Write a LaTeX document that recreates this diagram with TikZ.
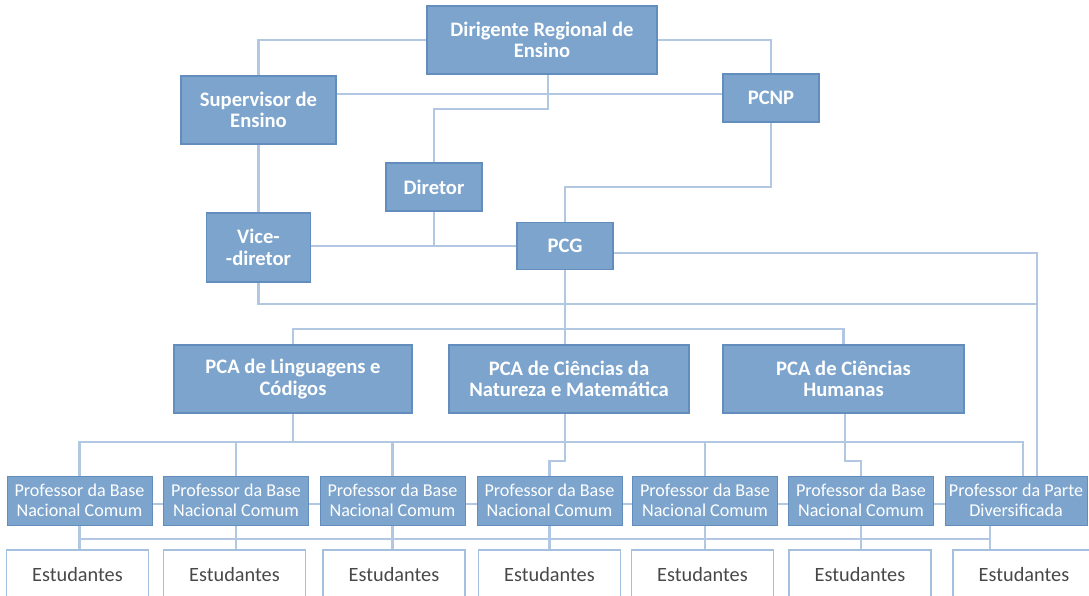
\documentclass[tikz,border=0pt]{standalone}
\usepackage{fontspec}
\setmainfont{Carlito}
\usetikzlibrary{backgrounds}
\definecolor{boxfill}{RGB}{124,164,204}
\definecolor{boxedge}{RGB}{98,141,189}
\definecolor{linecol}{RGB}{178,200,226}
\definecolor{estedge}{RGB}{165,192,222}
\definecolor{esttext}{RGB}{72,72,72}
\begin{document}
\begin{tikzpicture}[x=1pt,y=-1pt,
  bluebox/.style={draw=boxedge, line width=1.5pt, fill=boxfill, text=white,
    font=\fontsize{20.6}{21.5}\selectfont\bfseries, align=center, inner sep=0pt},
  profbox/.style={draw=boxedge, line width=1pt, fill=boxfill, text=white,
    font=\fontsize{18.1}{20.5}\selectfont, align=center, inner sep=0pt,
    minimum width=145pt, minimum height=49pt},
  estbox/.style={draw=estedge, line width=1.5pt, fill=white, text=esttext,
    font=\fontsize{20.3}{21}\selectfont, inner sep=0pt,
    minimum width=142pt, minimum height=50pt},
  connector/.style={draw=linecol, line width=2.8pt}
]
\useasboundingbox (0,0) rectangle (1089,595);

% top part
\node[bluebox, minimum width=230pt, minimum height=68pt] (dir) at (542,40) {Dirigente Regional de\\Ensino};
\node[bluebox, minimum width=155pt, minimum height=68pt] (sup) at (258.5,110) {Supervisor de\\Ensino};
\node[bluebox, minimum width=96pt, minimum height=48pt] (pcnp) at (771,98) {PCNP};
\node[bluebox, minimum width=96pt, minimum height=48pt] (diretor) at (434,187) {Diretor};
\node[bluebox, minimum width=104pt, minimum height=69pt] (vice) at (258.5,247.5) {Vice-\\-diretor};
\node[bluebox, minimum width=96pt, minimum height=47pt] (pcg) at (565,246) {PCG};

% PCA row
\node[bluebox, minimum width=238pt, minimum height=68pt] (pcaL) at (293,379) {PCA de Linguagens e\\Códigos};
\node[bluebox, minimum width=240pt, minimum height=68pt] (pcaC) at (569,379) {PCA de Ciências da\\Natureza e Matemática};
\node[bluebox, minimum width=241pt, minimum height=68pt] (pcaH) at (843.5,379) {PCA de Ciências\\Humanas};

% Professor row
\node[profbox] (p1) at (79.5,500.5) {Professor da Base\\Nacional Comum};
\node[profbox] (p2) at (236,500.5) {Professor da Base\\Nacional Comum};
\node[profbox] (p3) at (392.5,500.5) {Professor da Base\\Nacional Comum};
\node[profbox] (p4) at (549.5,500.5) {Professor da Base\\Nacional Comum};
\node[profbox] (p5) at (705,500.5) {Professor da Base\\Nacional Comum};
\node[profbox] (p6) at (861,500.5) {Professor da Base\\Nacional Comum};
\node[profbox, minimum width=142pt] (p7) at (1016,500.5) {Professor da Parte\\Diversificada};

% Estudantes row
\node[estbox] (e1) at (77.5,575) {Estudantes};
\node[estbox] (e2) at (234.5,575) {Estudantes};
\node[estbox] (e3) at (394,575) {Estudantes};
\node[estbox] (e4) at (549.5,575) {Estudantes};
\node[estbox] (e5) at (702.5,575) {Estudantes};
\node[estbox] (e6) at (860,575) {Estudantes};
\node[estbox] (e7) at (1024,575) {Estudantes};

\coordinate (vj) at (1037,304);
\coordinate (p7a) at ([xshift=7pt]p7.north);
\coordinate (p7r) at ([xshift=21pt]p7.north);
\coordinate (p7b) at ([xshift=-26pt]p7.south);
\coordinate (dirs) at ([xshift=6pt]dir.south);
\coordinate (pcaCs) at ([xshift=-4pt]pcaC.south);
\coordinate (pcaHs) at ([xshift=1.5pt]pcaH.south);

\begin{scope}[on background layer]
\draw[connector] (dir.west) -| (sup.north);
\draw[connector] (dir.east) -| (pcnp.north);
\draw[connector] (sup.east |- 0,94) -- (pcnp.west |- 0,94);
\draw[connector] (dirs) |- (diretor.north |- 0,109) -- (diretor.north);
\draw[connector] (sup.south) -- (vice.north);
\draw[connector] (pcnp.south) -- (pcnp.south |- 0,187) -| (pcg.north);
\draw[connector] (vice.east |- pcg.west) -- (pcg.west);
\draw[connector] (diretor.south) -- (diretor.south |- pcg.west);
\draw[connector] (pcg.east |- 0,253) -| (p7r);
\draw[connector] (vice.south) |- (vj);
\draw[connector] (pcg.south) -- (pcg.south |- pcaC.north);
\draw[connector] (pcaL.north) |- (pcaH.north |- 0,329) -- (pcaH.north);
\draw[connector] (pcaL.south) -- (pcaL.south |- 0,442);
\draw[connector] (p1.north) |- (p7a |- 0,442) -- (p7a);
\foreach \n in {p2,p3,p5} \draw[connector] (\n.north) -- (\n.north |- 0,442);
\draw[connector] (pcaCs) |- (p4.north |- 0,461) -- (p4.north);
\draw[connector] (pcaHs) |- (p6.north |- 0,461) -- (p6.north);
\draw[connector] (p1.east |- 0,504) -- (p7.west |- 0,504);
\foreach \i in {1,...,6} \draw[connector] (p\i.south) -- (p\i.south |- e\i.north);
\draw[connector] (p1.south |- 0,539) -- (p7b |- 0,539);
\draw[connector] (p7b) -- (p7b |- e7.north);
\end{scope}
\end{tikzpicture}
\end{document}
